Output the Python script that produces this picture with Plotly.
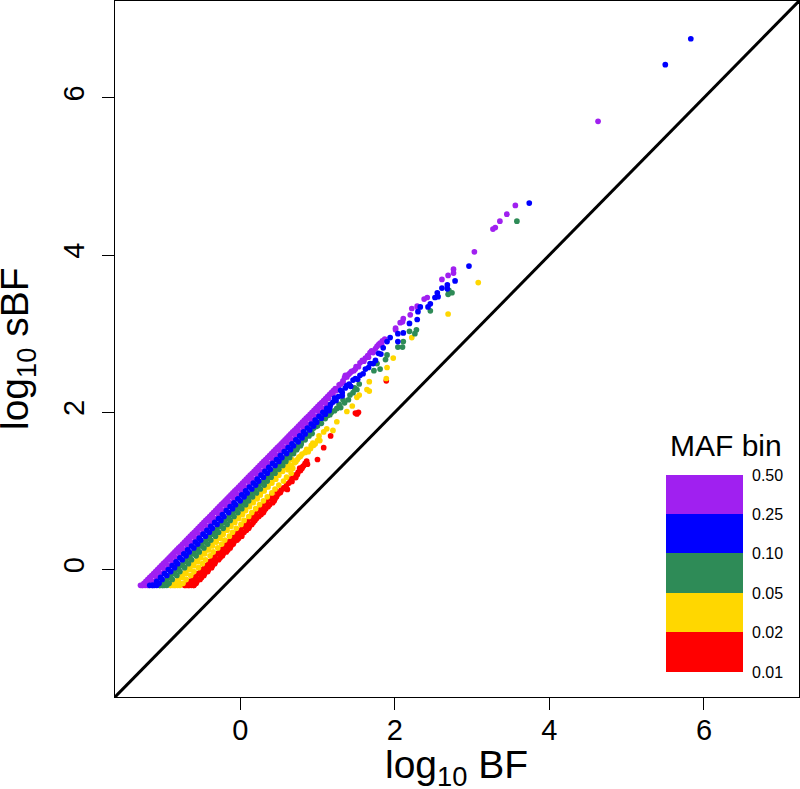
import plotly.graph_objects as go

AXIS_RANGE = [-1.62, 7.23]
DIAG = [-1.62, 7.23]
TICKS = [0, 2, 4, 6]
FLOOR = -0.20

# sBF levels of the rows read along each dense band
sbf_a = [-0.20,-0.15,-0.10,-0.05,0.00,0.05,0.10,0.15,0.20,0.25,0.30,0.35,0.40,0.45,0.50,0.55,0.60,0.65,0.70,0.75,
         0.80,0.85,0.90,0.95,1.00,1.05,1.10,1.15,1.20,1.25,1.30,1.35,1.40,1.45,1.50,1.55,1.60,1.65,1.70,1.75,
         1.80,1.85,1.90,1.95,2.00,2.05,2.10,2.15,2.20,2.25,2.30,2.35,2.40]
sbf_b = [-0.175,-0.125,-0.075,-0.025,0.025,0.075,0.125,0.175,0.225,0.275,0.325,0.375,0.425,0.475,0.525,0.575,0.625,0.675,0.725,0.775,
         0.825,0.875,0.925,0.975,1.025,1.075,1.125,1.175,1.225,1.275,1.325,1.375,1.425,1.475,1.525,1.575,1.625,1.675,1.725,1.775,
         1.825,1.875,1.925,1.975,2.025,2.075,2.125,2.175,2.225,2.275]

purple_a = [-1.27,-1.22,-1.17,-1.12,-1.07,-1.02,-.97,-.92,-.87,-.82,-.77,-.72,-.67,-.62,-.57,-.52,-.47,-.42,-.37,-.32,
            -.27,-.22,-.17,-.12,-.07,-.02,.03,.08,.13,.18,.23,.28,.33,.38,.43,.48,.53,.58,.63,.68,
            .73,.78,.83,.88,.93,.98,1.03,1.08,1.13,1.18,1.23,1.28,1.33]
purple_top = [-1.245,-1.195,-1.145,-1.095,-1.045,-.995,-.945,-.895,-.845,-.795,-.745,-.695,-.645,-.595,-.545,-.495,-.445,-.395,-.345,-.295,
              -.245,-.195,-.145,-.095,-.045,.005,.055,.105,.155,.205,.255,.305,.355,.405,.455,.505,.555,.605,.655,.705,
              .755,.805,.855,.905,.955,1.005,1.055,1.105,1.155,1.205]
purple_b = [-1.20,-1.16,-1.10,-1.06,-1.00,-.96,-.90,-.86,-.80,-.76,-.70,-.66,-.60,-.56,-.50,-.46,-.40,-.36,-.30,-.26,
            -.20,-.16,-.10,-.06,0,.04,.10,.14,.20,.24,.30,.34,.40,.44,.50,.54,.60,.64,.70,.74,
            .80,.84,.90,.94,1.00,1.04,1.10,1.14,1.20,1.24]
purple_c = [-1.18,-1.13,-1.08,-1.03,-.98,-.93,-.88,-.83,-.78,-.73,-.68,-.63,-.58,-.53,-.48,-.43,-.38,-.33,-.28,-.23,
            -.18,-.13,-.08,-.03,.02,.07,.12,.17,.22,.27,.32,.37,.42,.47,.52,.57,.62,.67,.72,.77,
            .82,.87,.92,.97,1.02,1.07,1.12]
blue_a = [-1.13,-1.08,-1.03,-.98,-.93,-.88,-.83,-.78,-.73,-.68,-.63,-.58,-.53,-.48,-.43,-.38,-.33,-.28,-.23,-.18,
          -.13,-.08,-.03,.02,.07,.12,.17,.22,.27,.32,.37,.42,.47,.52,.57,.62,.67,.72,.77,.82,
          .87,.92,.97,1.02,1.07,1.12,1.17]
blue_b = [-1.05,-1.01,-.95,-.90,-.85,-.81,-.75,-.70,-.66,-.60,-.55,-.51,-.45,-.40,-.36,-.30,-.25,-.21,-.15,-.10,
          -.06,0,.05,.09,.15,.20,.24,.30,.35,.39,.45,.50,.54,.60,.65,.69,.75,.80,.84,.90,
          .95,.99,1.05,1.10]
green_c = [-1.04,-.99,-.94,-.89,-.84,-.79,-.74,-.69,-.64,-.59,-.54,-.49,-.44,-.39,-.34,-.29,-.24,-.19,-.14,-.09,
           -.04,.01,.06,.11,.16,.21,.26,.31,.36,.41,.46,.51,.55,.60,.65,.70,.75,.80,.85,.90,.94]
green_a = [-1.00,-.95,-.90,-.85,-.80,-.75,-.70,-.65,-.60,-.55,-.50,-.45,-.40,-.35,-.30,-.25,-.20,-.15,-.10,-.05,
           0,.05,.10,.14,.19,.24,.29,.34,.39,.44,.49,.54,.59,.64,.69,.74,.79,.84,.89]
green_b = [-.92,-.88,-.82,-.78,-.72,-.67,-.63,-.57,-.53,-.47,-.42,-.38,-.32,-.28,-.22,-.17,-.13,-.08,-.03,.02,
           .07,.11,.16,.21,.26,.31,.35,.40,.45,.50,.55,.59,.64,.69,.73,.78]
yellow_c = [-.90,-.85,-.80,-.75,-.70,-.65,-.60,-.55,-.50,-.45,-.41,-.36,-.31,-.26,-.21,-.16,-.11,-.06,-.01,.04,
            .08,.13,.18,.23,.28,.33,.38,.43,.47,.52,.57,.62,.67]
yellow_a = [-.85,-.80,-.75,-.70,-.65,-.60,-.55,-.51,-.46,-.41,-.36,-.31,-.26,-.22,-.17,-.12,-.07,-.02,.03,.07,
            .12,.17,.22,.26,.31,.36,.41,.46,.50,.55,.60]
yellow_b = [-.74,-.70,-.64,-.60,-.54,-.49,-.45,-.39,-.35,-.29,-.24,-.20,-.14,-.10,-.05,.01,.05,.11,.15,.20,
            .25,.30,.35,.41,.45,.50,.56,.60,.66]
red_c = [-.71,-.66,-.61,-.56,-.51,-.46,-.41,-.36,-.31,-.26,-.21,-.17,-.12,-.07,-.02,.03,.08,.12,.17,.22,.27,.32,.37,.41,.46]
red_a = [-.67,-.62,-.57,-.52,-.47,-.42,-.38,-.33,-.28,-.23,-.18,-.14,-.09,-.04,.01,.06,.10,.15,.20,.25,.29,.34,.39]
red_b = [-.57,-.52,-.47,-.42,-.37,-.33,-.28,-.23,-.18,-.13,-.09,-.04,.02,.05,.11,.15,.19,.24,.30,.33,.38,.44,.47]
red_d = [-.60,-.56,-.50,-.46,-.41,-.36,-.32,-.26,-.22,-.16,-.12,-.08,-.02,.02,.08,.12,.17,.21,.27,.31,.36,.42,.45]

# points along the flat lower limit of each band
purple_floor = [-1.29,-1.26,-1.23,-1.20]
blue_floor = [-1.17,-1.14,-1.11,-1.08]
green_floor = [-1.04,-1.01,-.98,-.95]
yellow_floor = [-.90,-.87,-.84,-.81,-.78]
red_floor = [-.72,-.69,-.66,-.63,-.60]

# separately readable points
purple_bf = [1.36,1.42,1.49,1.55,1.62,1.68,1.75,1.79,1.84,2.01,2.01,2.07,2.11,2.10,2.20,2.22,2.29,2.30,2.38,2.42,
             2.61,2.69,2.76,2.76,3.03,3.27,3.30,3.36,3.45,3.56,4.63,
             1.27,1.30,1.33,1.35,1.38,1.40,1.44,1.47,1.50,1.53,1.58,1.60,1.65,1.66,1.70,1.72,1.77,1.81,1.83,1.87]
purple_sbf = [2.47,2.50,2.55,2.63,2.69,2.76,2.81,2.86,2.91,3.07,3.05,3.14,3.19,3.15,3.24,3.32,3.35,3.33,3.44,3.46,
              3.69,3.74,3.77,3.82,4.04,4.33,4.35,4.43,4.52,4.63,5.70,
              2.30,2.36,2.38,2.44,2.45,2.48,2.52,2.53,2.58,2.58,2.66,2.65,2.72,2.70,2.78,2.76,2.84,2.88,2.86,2.93]
blue_bf = [1.32,1.32,1.38,1.36,1.46,1.55,1.59,1.72,1.79,1.85,1.94,2.04,2.04,2.11,2.19,2.29,2.30,2.33,2.43,2.46,
           2.52,2.56,2.55,2.61,2.68,2.68,2.78,2.96,3.74,5.50,5.83,
           1.10,1.13,1.15,1.16,1.20,1.24,1.22,1.27,1.30,1.41,1.43,1.49,1.52,1.62,1.66,1.68,1.75,1.82,1.90]
blue_sbf = [2.25,2.21,2.34,2.31,2.41,2.47,2.49,2.62,2.75,2.82,2.95,2.90,3.00,3.01,3.13,3.18,3.28,3.34,3.34,3.38,
            3.46,3.47,3.52,3.58,3.62,3.57,3.67,3.86,4.66,6.42,6.75,
            1.98,2.03,2.02,2.06,2.13,2.15,2.18,2.20,2.28,2.36,2.33,2.43,2.42,2.55,2.57,2.62,2.66,2.74,2.90]
green_bf = [1.10,1.16,1.22,1.30,1.35,1.40,1.46,1.51,1.54,1.73,1.81,1.77,1.88,1.90,2.04,2.10,2.11,2.19,2.26,2.28,
            2.46,2.69,2.74,2.70,3.58,
            .88,.93,.92,.95,.98,1.00,1.03,1.05,1.07,1.13,1.18,1.25,1.28,1.33,1.42,1.48]
green_sbf = [1.92,1.97,2.02,2.06,2.12,2.16,2.25,2.29,2.36,2.53,2.55,2.62,2.67,2.73,2.83,2.83,2.90,3.03,3.00,3.05,
             3.29,3.50,3.52,3.55,4.43,
             1.72,1.73,1.76,1.80,1.82,1.83,1.88,1.86,1.93,1.96,2.00,2.05,2.10,2.16,2.22,2.31]
yellow_bf = [.72,.78,.84,.91,.95,1.00,1.03,1.12,1.20,1.25,1.38,1.45,1.51,1.54,1.64,1.67,1.67,1.89,1.90,1.98,
             2.22,2.69,3.08,
             .62,.66,.68,.70,.74,.76,.80,.86,.88,.92,.94,.97,1.02,1.08]
yellow_sbf = [1.37,1.44,1.49,1.54,1.58,1.64,1.64,1.79,1.77,1.88,2.01,2.08,2.19,2.22,2.29,2.27,2.39,2.43,2.57,2.69,
              2.95,3.25,3.65,
              1.27,1.32,1.29,1.36,1.40,1.43,1.47,1.53,1.50,1.58,1.61,1.60,1.70,1.75]
red_bf = [.52,.56,.61,.63,.69,.72,.75,.78,.81,.84,1.00,1.08,1.17,1.49,1.51,1.53,1.89,
          .49,.53,.57,.60,.65,.67,.71,.74,.77,.80,.82,.86,.87]
red_sbf = [.98,1.04,1.02,1.10,1.17,1.17,1.24,1.26,1.31,1.35,1.40,1.55,1.70,1.99,1.98,2.00,2.40,
           .96,1.01,1.03,1.08,1.15,1.12,1.20,1.21,1.29,1.29,1.32,1.38,1.34]

bin_colors = ["#FF0000", "#FFD700", "#2E8B57", "#0000FF", "#A020F0"]
bin_edges = ["0.01", "0.02", "0.05", "0.10", "0.25", "0.50"]
legend_title = "MAF bin"
x_title = "log<sub>10</sub> BF"
y_title = "log<sub>10</sub> sBF"
FONT = "Liberation Sans"

series = [
    ([(red_c, sbf_a), (red_a, sbf_a), (red_b, sbf_b), (red_d, sbf_a)], red_floor, red_bf, red_sbf, bin_colors[0]),
    ([(yellow_c, sbf_a), (yellow_a, sbf_a), (yellow_b, sbf_b)], yellow_floor, yellow_bf, yellow_sbf, bin_colors[1]),
    ([(green_c, sbf_a), (green_a, sbf_a), (green_b, sbf_b)], green_floor, green_bf, green_sbf, bin_colors[2]),
    ([(purple_a, sbf_a), (purple_top, sbf_b), (purple_b, sbf_b), (purple_c, sbf_a)], purple_floor, purple_bf, purple_sbf, bin_colors[4]),
    ([(blue_a, sbf_a), (blue_b, sbf_b)], blue_floor, blue_bf, blue_sbf, bin_colors[3]),
]

fig = go.Figure()
fig.add_trace(go.Scatter(x=DIAG, y=DIAG, mode="lines", line=dict(color="black", width=3), showlegend=False))
for rows, fl, bf, sbf, col in series:
    xs, ys = [], []
    for r, lev in rows:
        xs += r
        ys += lev[:len(r)]
    xs += fl + bf
    ys += [FLOOR] * len(fl) + sbf
    fig.add_trace(go.Scatter(x=xs, y=ys, mode="markers",
                             marker=dict(color=col, size=5.7, line=dict(width=0)), showlegend=False))

W, H = 800, 789
L, R, T, B = 115, 1, 1, 92
pw, ph = W - L - R, H - T - B
def px(v): return (v - L) / pw
def py(v): return 1 - (v - T) / ph

key_edges = [672, 632, 593, 553, 514, 475]
shapes, anns = [], []
for i, col in enumerate(bin_colors):
    shapes.append(dict(type="rect", xref="paper", yref="paper", x0=px(666), x1=px(743),
                       y0=py(key_edges[i]), y1=py(key_edges[i + 1]), fillcolor=col, line=dict(width=0)))
for lab, e in zip(bin_edges, key_edges):
    anns.append(dict(xref="paper", yref="paper", x=px(750), y=py(e), text=lab, showarrow=False,
                     xanchor="left", yanchor="middle", font=dict(size=16, color="black", family=FONT)))
anns.append(dict(xref="paper", yref="paper", x=px(784), y=py(445), text=legend_title, showarrow=False,
                 xanchor="right", yanchor="middle", font=dict(size=30, color="black", family=FONT)))
anns.append(dict(xref="paper", yref="paper", x=px(456), y=py(767), text=x_title, showarrow=False,
                 xanchor="center", yanchor="middle", font=dict(size=39, color="black", family=FONT)))
anns.append(dict(xref="paper", yref="paper", x=px(17), y=py(349), text=y_title, showarrow=False, textangle=-90,
                 xanchor="center", yanchor="middle", font=dict(size=39, color="black", family=FONT)))

axis = dict(range=AXIS_RANGE, tickmode="array", tickvals=TICKS, ticktext=[str(t) for t in TICKS],
            ticks="outside", ticklen=12, tickwidth=1, tickcolor="black", showgrid=False, zeroline=False,
            showline=True, linecolor="black", linewidth=1, mirror=True,
            tickfont=dict(size=29, color="black", family=FONT))
fig.update_layout(
    width=W, height=H, margin=dict(l=L, r=R, t=T, b=B, pad=0),
    paper_bgcolor="white", plot_bgcolor="white", showlegend=False, shapes=shapes, annotations=anns,
    xaxis=dict(axis, ticklabelstandoff=-5),
    yaxis=dict(axis, tickangle=-90, ticklabelstandoff=6),
)
fig.write_html("out.html", config=dict(displayModeBar=False),
               post_script="document.body.style.margin='0';document.body.style.overflow='hidden';")
